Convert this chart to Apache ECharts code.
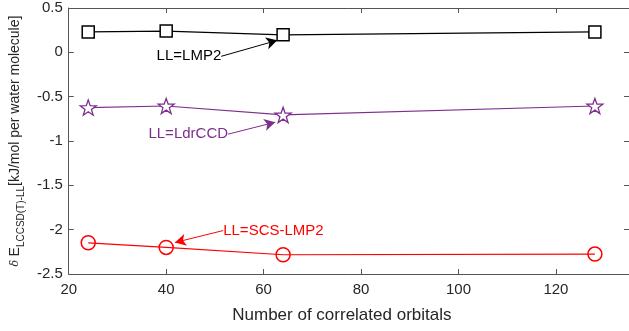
<!DOCTYPE html>
<html><head><meta charset="utf-8">
<script src="https://cdn.jsdelivr.net/npm/echarts@6/dist/echarts.min.js"></script>
<style>html,body{margin:0;padding:0;background:#fff}#c{width:629px;height:331px}</style>
</head><body><div id="c"></div>
<script>
const orbitals = [24, 40, 64, 128];
const lmp2 = [0.23, 0.24, 0.198, 0.23];
const ldrccd = [-0.623, -0.605, -0.706, -0.605];
const scslmp2 = [-2.148, -2.20, -2.283, -2.275];
const xTicks = [20, 40, 60, 80, 100, 120];
const yTicks = [-2.5, -2, -1.5, -1, -0.5, 0, 0.5];
// annotation arrows: [fromX, fromY, toX, toY] in data units, and label text
const annLMP2 = {text: 'LL=LMP2', arrow: [51.3, -0.045, 62.8, 0.135]};
const annLdr = {text: 'LL=LdrCCD', arrow: [52.7, -0.923, 62.4, -0.788]};
const annSCS = {text: 'LL=SCS-LMP2', arrow: [51.7, -2.01, 41.8, -2.145]};

const FONT = 'Liberation Sans, Arial, Helvetica, sans-serif';
const AX = '#262626';
const AXL = '#555';
function pts(ys){ return orbitals.map((x,i)=>[x, ys[i]]); }
function ann(a, color){
  return {
    silent: true, symbol: ['none','arrow'], symbolSize: [9, 11],
    lineStyle: {color: color, width: 1, type: 'solid'},
    label: {show: false},
    data: [[
      {coord: [a.arrow[0], a.arrow[1]]},
      {coord: [a.arrow[2], a.arrow[3]]}
    ]]
  };
}
function annText(a, color, align){
  return {
    symbol: 'circle', symbolSize: 0, silent: true,
    label: {show: true, position: align === 'right' ? 'left' : 'right', distance: 0,
      formatter: a.text, color: color, fontSize: 15, fontFamily: FONT},
    data: [{coord: [a.arrow[0], a.arrow[1]]}]
  };
}
const axisBase = {
  axisLine: {show: true, onZero: false, lineStyle: {color: AXL, width: 1}},
  axisTick: {show: true, inside: true, length: 5, lineStyle: {color: AXL}},
  splitLine: {show: false}
};
const chart = echarts.init(document.getElementById('c'));
const xMin = 20, xMax = 135;
chart.setOption({
  animation: false,
  textStyle: {fontFamily: FONT},
  grid: {left: 65, top: 8, width: 570, height: 266, show: false},
  xAxis: [Object.assign({}, axisBase, {
    type: 'value', min: xMin, max: xMax, interval: 20, position: 'bottom',
    axisLabel: {color: AX, fontSize: 15, margin: 8, showMaxLabel: false, fontFamily: FONT},
    name: 'Number of correlated orbitals', nameLocation: 'middle', nameGap: 33,
    nameTextStyle: {color: AX, fontSize: 17, fontFamily: FONT, padding: [0, 14, 0, 0]}
  }), Object.assign({}, axisBase, {
    type: 'value', min: xMin, max: xMax, interval: 20, position: 'top',
    axisLabel: {show: false}
  })],
  yAxis: [Object.assign({}, axisBase, {
    type: 'value', min: -2.5, max: 0.5, interval: 0.5, position: 'left',
    axisLabel: {color: AX, fontSize: 15, margin: 6, fontFamily: FONT,
      formatter: v => String(v)},
    name: '{d|δ} {m|E}{s|LCCSD(T)-LL}{m|[kJ/mol per water molecule]}',
    nameLocation: 'middle', nameRotate: 90, nameGap: 41,
    nameTextStyle: {
      color: AX, fontFamily: FONT,
      rich: {
        d: {fontSize: 11, fontStyle: 'italic', color: AX, fontFamily: 'DejaVu Serif', lineHeight: 22, verticalAlign: 'middle'},
        m: {fontSize: 14, color: AX, fontFamily: FONT, lineHeight: 22, verticalAlign: 'middle'},
        s: {fontSize: 10, color: AX, fontFamily: FONT, lineHeight: 22, verticalAlign: 'bottom', padding: [8, 0, 0, 0]}
      }
    }
  }), Object.assign({}, axisBase, {
    type: 'value', min: -2.5, max: 0.5, interval: 0.5, position: 'right',
    axisLabel: {show: false}
  })],
  series: [
    {name: 'LMP2', type: 'line', data: pts(lmp2), symbol: 'rect', symbolSize: 12,
      itemStyle: {color: '#fff', borderColor: '#000', borderWidth: 1.5},
      lineStyle: {color: '#000', width: 1.2}, z: 3,
      markLine: ann(annLMP2, '#000'), markPoint: annText(annLMP2, '#000', 'right')},
    {name: 'LdrCCD', type: 'line', data: pts(ldrccd),
      symbol: 'path://M0,-10 L2.35,-3.24 L9.51,-3.09 L3.8,1.24 L5.88,8.09 L0,4 L-5.88,8.09 L-3.8,1.24 L-9.51,-3.09 L-2.35,-3.24 Z',
      symbolSize: 16, symbolKeepAspect: true,
      itemStyle: {color: '#fff', borderColor: '#7E2F8E', borderWidth: 1.3},
      lineStyle: {color: '#7E2F8E', width: 1.2}, z: 3,
      markLine: ann(annLdr, '#7E2F8E'), markPoint: annText(annLdr, '#7E2F8E', 'right')},
    {name: 'SCS-LMP2', type: 'line', data: pts(scslmp2), symbol: 'circle', symbolSize: 14,
      itemStyle: {color: 'rgba(255,255,255,0)', borderColor: '#FF0000', borderWidth: 1.5},
      lineStyle: {color: '#FF0000', width: 1.2}, z: 3,
      markLine: ann(annSCS, '#FF0000'), markPoint: annText(annSCS, '#FF0000', 'left')}
  ]
});
</script></body></html>
